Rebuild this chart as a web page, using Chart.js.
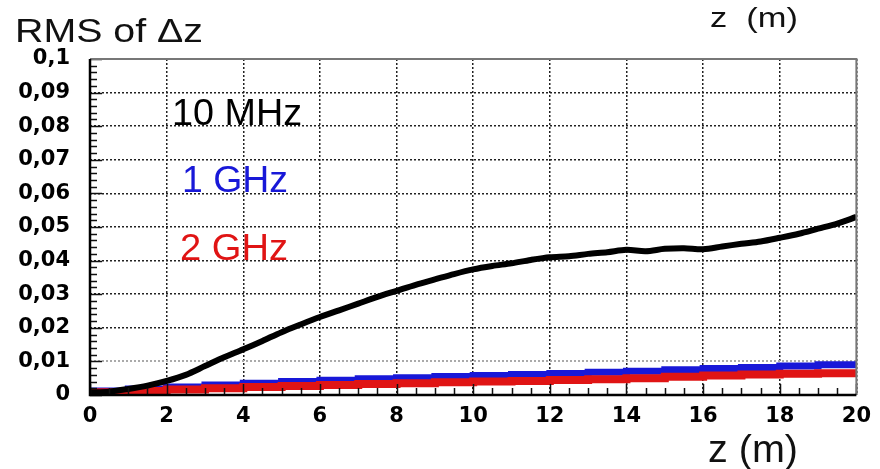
<!DOCTYPE html>
<html>
<head>
<meta charset="utf-8">
<script src="https://cdn.jsdelivr.net/npm/chart.js@4"></script>
<style>
  html, body { margin: 0; padding: 0; background: #fff; }
  #wrap { width: 880px; height: 469px; }
</style>
</head>
<body>
<div id="wrap"><canvas id="rmsChart" width="880" height="469"></canvas></div>
<script>
// RMS of Δz against z, for three frequencies
const zBlack = [0, 0.5, 1, 1.5, 2, 2.5, 3, 3.5, 4, 4.5, 5, 5.5, 6, 6.5, 7, 7.5, 8, 8.5, 9, 9.5, 10,
                10.5, 11, 11.5, 12, 12.5, 13, 13.5, 14, 14.5, 15, 15.5, 16, 16.5, 17, 17.5, 18, 18.5, 19, 19.5, 20];
const rms10MHz = [0.0008, 0.001, 0.0018, 0.0028, 0.0042, 0.006, 0.0086, 0.0112, 0.0136, 0.0161, 0.0187,
                  0.021, 0.0232, 0.0252, 0.0272, 0.0292, 0.031, 0.0328, 0.0344, 0.036, 0.0374,
                  0.0384, 0.0392, 0.0402, 0.041, 0.0413, 0.042, 0.0425, 0.0432, 0.0428, 0.0435,
                  0.0437, 0.0434, 0.0442, 0.045, 0.0457, 0.0468, 0.048, 0.0495, 0.051, 0.053];

const zSteps = [0, 1, 2, 3, 4, 5, 6, 7, 8, 9, 10, 11, 12, 13, 14, 15, 16, 17, 18, 19, 20];
const rms1GHz = [0.0012, 0.0018, 0.0024, 0.003, 0.0035, 0.004, 0.0044, 0.0048, 0.0051, 0.0055, 0.0058,
                 0.0061, 0.0064, 0.0068, 0.0071, 0.0075, 0.0079, 0.0082, 0.0086, 0.009, 0.0093];
const rms2GHz = [0.0008, 0.0012, 0.0016, 0.002, 0.0024, 0.0027, 0.003, 0.0033, 0.0035, 0.0038, 0.004,
                 0.0042, 0.0045, 0.0047, 0.005, 0.0054, 0.0058, 0.0061, 0.0063, 0.0065, 0.0067];

const xTickLabels = ['0', '2', '4', '6', '8', '10', '12', '14', '16', '18', '20'];
const yTickLabels = ['0', '0,01', '0,02', '0,03', '0,04', '0,05', '0,06', '0,07', '0,08', '0,09', '0,1'];

const seriesNames = ['10 MHz', '1 GHz', '2 GHz'];
const seriesColors = ['#000000', '#1818d8', '#e01414'];

const toPoints = (xs, ys) => xs.map((x, i) => ({ x: x, y: ys[i] }));

// free text on the canvas: [text, left, baseline, width, font size, colour]
const annotations = [
    ['RMS of \u0394z', 15, 42, 188, 33, '#111'],
    ['z  (m)', 710, 27, 88, 27, '#111'],
    ['z (m)', 708, 462, 90, 38, '#111'],
    [seriesNames[0], 172, 125, 130, 37, seriesColors[0]],
    [seriesNames[1], 182, 192, 106, 36, seriesColors[1]],
    [seriesNames[2], 180, 260, 108, 36, seriesColors[2]]
];

function fitText(ctx, txt, x, base, width, size, color) {
    ctx.save();
    ctx.font = size + 'px "Liberation Sans", Arial, sans-serif';
    const w = ctx.measureText(txt).width;
    ctx.translate(x, base);
    ctx.scale(width / w, 1);
    ctx.fillStyle = color;
    ctx.textAlign = 'left';
    ctx.textBaseline = 'alphabetic';
    ctx.fillText(txt, 0, 0);
    ctx.restore();
}

// frame, small inner ticks and the text labels
const framePlugin = {
    id: 'frame',
    afterDatasetsDraw(chart) {
        const { ctx, chartArea: a, scales } = chart;
        const xs = scales.x, ys = scales.y;
        ctx.save();
        ctx.strokeStyle = '#111';
        ctx.lineWidth = 1.5;
        ctx.beginPath();
        for (let v = 0; v <= 0.1 + 1e-9; v += 0.002) {
            const py = Math.round(ys.getPixelForValue(v)) + 0.5;
            const major = Math.abs(v * 100 - Math.round(v * 100)) < 1e-6;
            ctx.moveTo(a.left, py);
            ctx.lineTo(a.left + (major ? 12 : 7), py);
        }
        for (let v = 0; v <= 20; v += 0.5) {
            const px = Math.round(xs.getPixelForValue(v)) + 0.5;
            ctx.moveTo(px, a.bottom);
            ctx.lineTo(px, a.bottom - (v % 2 === 0 ? 11 : 7));
        }
        ctx.stroke();

        ctx.lineWidth = 2;
        ctx.strokeStyle = '#777';
        ctx.beginPath();
        ctx.moveTo(a.left, a.top);
        ctx.lineTo(a.right, a.top);
        ctx.lineTo(a.right, a.bottom);
        ctx.stroke();
        ctx.lineWidth = 2.5;
        ctx.strokeStyle = '#000';
        ctx.beginPath();
        ctx.moveTo(a.left, a.top);
        ctx.lineTo(a.left, a.bottom);
        ctx.lineTo(a.right, a.bottom);
        ctx.stroke();
        ctx.restore();
    },
    afterDraw(chart) {
        annotations.forEach(t => fitText(chart.ctx, t[0], t[1], t[2], t[3], t[4], t[5]));
    }
};

const tickFont = { family: '"DejaVu Sans", sans-serif', size: 21, weight: 'bold' };

const ctx = document.getElementById('rmsChart').getContext('2d');
const rmsChart = new Chart(ctx, {
    type: 'line',
    data: {
        datasets: [
            {
                label: seriesNames[0],
                data: toPoints(zBlack, rms10MHz),
                borderColor: seriesColors[0],
                borderWidth: 6,
                tension: 0.3,
                pointRadius: 0
            },
            {
                label: seriesNames[2],
                data: toPoints(zSteps, rms2GHz),
                borderColor: seriesColors[2],
                borderWidth: 8,
                stepped: true,
                pointRadius: 0
            },
            {
                label: seriesNames[1],
                data: toPoints(zSteps, rms1GHz),
                borderColor: seriesColors[1],
                borderWidth: 7,
                stepped: true,
                pointRadius: 0
            }
        ]
    },
    options: {
        responsive: false,
        animation: false,
        layout: { padding: { left: 0, top: 59, right: 19, bottom: 0 } },
        plugins: { legend: { display: false }, tooltip: { enabled: false } },
        scales: {
            x: {
                type: 'linear',
                min: 0,
                max: 20,
                afterFit: s => { s.height = 74; },
                ticks: {
                    stepSize: 2,
                    padding: 9,
                    color: '#000',
                    font: tickFont,
                    maxRotation: 0,
                    callback: v => xTickLabels[Math.round(v / 2)]
                },
                grid: { color: '#222', lineWidth: 1.5, drawTicks: false },
                border: { display: false, dash: [2, 2] }
            },
            y: {
                min: 0,
                max: 0.1,
                afterFit: s => { s.width = 90; },
                ticks: {
                    stepSize: 0.01,
                    padding: 20,
                    color: '#000',
                    font: tickFont,
                    callback: v => yTickLabels[Math.round(v * 100)]
                },
                grid: {
                    color: c => (c.tick && Math.round(c.tick.value * 100) === 1) ? '#aaa' : '#222',
                    lineWidth: c => (c.tick && Math.round(c.tick.value * 100) === 1) ? 2 : 1.5,
                    drawTicks: false
                },
                border: { display: false, dash: [2, 2] }
            }
        }
    },
    plugins: [framePlugin]
});
</script>
</body>
</html>
